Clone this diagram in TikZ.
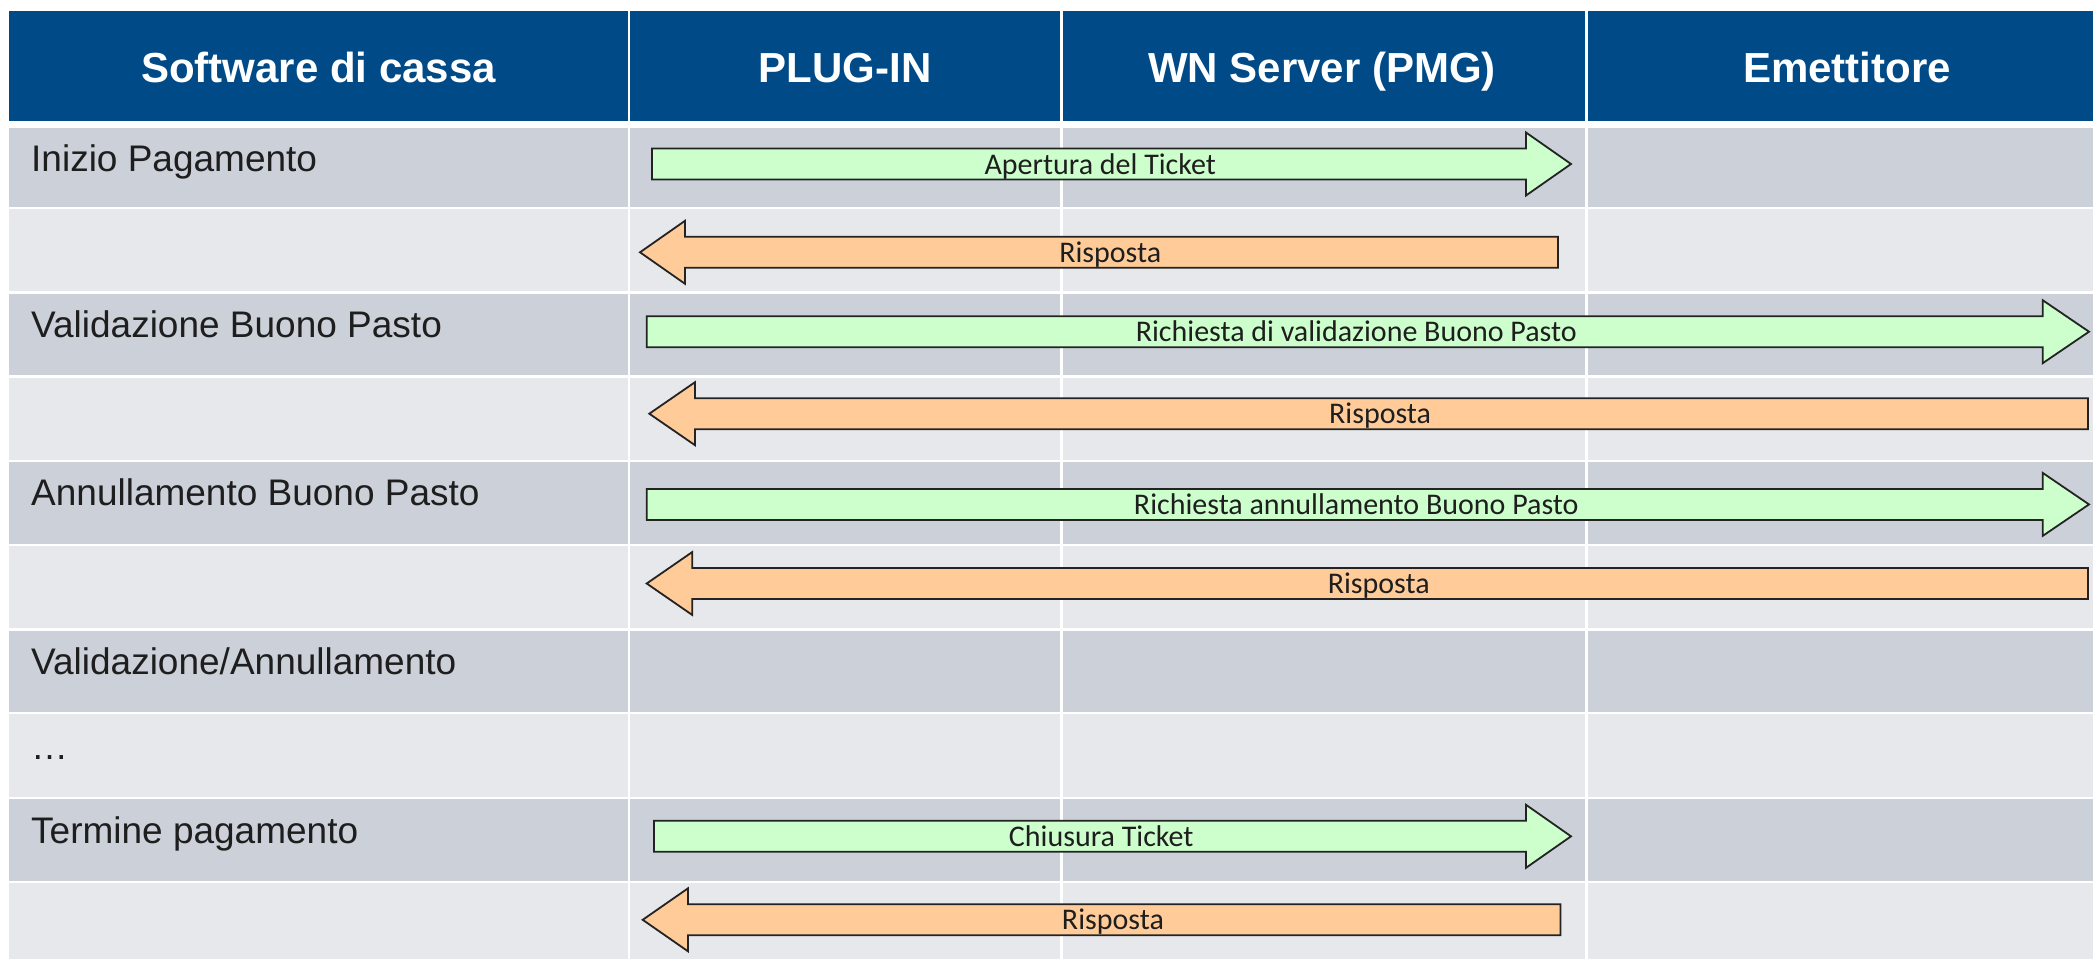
\documentclass[tikz,border=0pt]{standalone}
\usepackage{fontspec}
\setmainfont{Liberation Sans}
\newfontfamily\lblfont{Carlito}
\definecolor{hdrblue}{RGB}{0,75,135}
\definecolor{rowdark}{RGB}{203,208,217}
\definecolor{rowlight}{RGB}{231,232,236}
\definecolor{reqgreen}{RGB}{204,255,204}
\definecolor{resporange}{RGB}{255,204,153}
\definecolor{edgegray}{RGB}{35,35,35}
\definecolor{txtdark}{RGB}{30,30,30}
\newcommand\blockarr[7]{% name, tail x, head-base x, tip x, centre y, fill, label
  \draw[arrowedge, fill=#6] (#2,#5-15.5) -- (#3,#5-15.5) -- (#3,#5-31.5) -- (#4,#5)
     -- (#3,#5+31.5) -- (#3,#5+15.5) -- (#2,#5+15.5) -- cycle;
  \pgfmathsetmacro\lblx{(2*#2+#3+#4)/4}
  \node[arrlabel] (#1) at (\lblx,#5+10) {#7};
}
\begin{document}
\begin{tikzpicture}[x=1pt,y=-1pt,
  hdrtext/.style={text=white, anchor=base, inner sep=0pt, font=\fontsize{42}{50}\selectfont\bfseries},
  rowtext/.style={text=txtdark, anchor=base west, inner sep=0pt, font=\fontsize{37}{44}\selectfont},
  arrlabel/.style={text=txtdark, anchor=base, inner sep=0pt, font=\lblfont\fontsize{30}{36}\selectfont},
  arrowedge/.style={draw=edgegray, line width=1.8pt, line join=miter}]
\useasboundingbox (0,0) rectangle (2093,959);
\fill[white] (0,0) rectangle (2093,959);
% header cells
\foreach \l/\r in {9/627.5, 630/1060, 1062.5/1585, 1587.5/2093}
  \fill[hdrblue] (\l,11) rectangle (\r,120.5);
% body rows
\foreach \t/\b/\c in {127.7/206.8/rowdark, 209.3/290.7/rowlight, 293.7/375.2/rowdark,
    377.5/460/rowlight, 462.3/543.6/rowdark, 546/628.3/rowlight, 630.8/712.3/rowdark,
    714/797/rowlight, 799/880.5/rowdark, 883.3/959/rowlight}
  \foreach \l/\r in {9/627.5, 630/1060, 1062.5/1585, 1587.5/2093}
    \fill[\c] (\l,\t) rectangle (\r,\b);
% header texts
\node[hdrtext] (h1) at (318.5,82.5) {Software di cassa};
\node[hdrtext] (h2) at (845,82.5) {PLUG-IN};
\node[hdrtext] (h3) at (1322,82.5) {WN Server (PMG)};
\node[hdrtext] (h4) at (1847,82.5) {Emettitore};
% row texts
\node[rowtext] (r1) at (31,171) {Inizio Pagamento};
\node[rowtext] (r3) at (31,337) {Validazione Buono Pasto};
\node[rowtext] (r5) at (31,505.5) {Annullamento Buono Pasto};
\node[rowtext] (r7) at (31,674) {Validazione/Annullamento};
\node[rowtext] (r8) at (31,759) {…};
\node[rowtext] (r9) at (31,843) {Termine pagamento};
% block arrows
\blockarr{a1}{652}{1526}{1571}{164}{reqgreen}{Apertura del Ticket}
\blockarr{a2}{1558}{685}{640}{252.3}{resporange}{Risposta}
\blockarr{a3}{646.7}{2042.7}{2089}{331.7}{reqgreen}{Richiesta di validazione Buono Pasto}
\blockarr{a4}{2088}{695}{649.3}{413.7}{resporange}{Risposta}
\blockarr{a5}{646.7}{2042.7}{2089}{504.4}{reqgreen}{Richiesta annullamento Buono Pasto}
\blockarr{a6}{2088}{692.3}{646.7}{583.5}{resporange}{Risposta}
\blockarr{a7}{654}{1526}{1571}{836.3}{reqgreen}{Chiusura Ticket}
\blockarr{a8}{1560.5}{688}{642.7}{919.8}{resporange}{Risposta}
\end{tikzpicture}
\end{document}
